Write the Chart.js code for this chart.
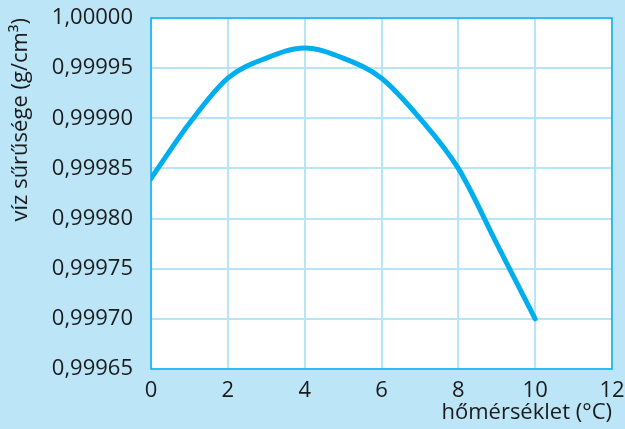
<!DOCTYPE html>
<html>
<head>
<meta charset="utf-8">
<script src="https://cdn.jsdelivr.net/npm/chart.js@4/dist/chart.umd.min.js"></script>
<style>
html,body{margin:0;padding:0;background:#bce5f8;}
#wrap{width:625px;height:429px;}
</style>
</head>
<body>
<div id="wrap"><canvas id="c" width="625" height="429"></canvas></div>
<script>
const temperatures = [0, 1, 2, 3, 4, 5, 6, 7, 8, 9, 10];
const densities = [0.99984, 0.999895, 0.99994, 0.99996, 0.99997, 0.99996, 0.99994, 0.99990, 0.99985, 0.999775, 0.99970];
const xTicks = [0, 2, 4, 6, 8, 10, 12];
const yTicks = [0.99965, 0.99970, 0.99975, 0.99980, 0.99985, 0.99990, 0.99995, 1.00000];
const xTitle = 'hőmérséklet (°C)';
const yTitle = 'víz sűrűsége (g/cm³)';

const FONT = '"Open Sans", "Noto Sans", sans-serif';
const textColor = '#1b1b1b';
const gridColor = '#b8e4f7';
const lineColor = '#00aeef';

const bgPlugin = {
  id: 'bg',
  beforeDraw(chart) {
    const {ctx, chartArea: a} = chart;
    ctx.save();
    ctx.fillStyle = '#bce5f8';
    ctx.fillRect(0, 0, chart.width, chart.height);
    ctx.fillStyle = '#ffffff';
    ctx.fillRect(a.left, a.top, a.right - a.left, a.bottom - a.top);
    ctx.restore();
  },
  afterDatasetsDraw(chart) {
    const {ctx, chartArea: a} = chart;
    ctx.save();
    ctx.strokeStyle = lineColor;
    ctx.lineWidth = 1.5;
    ctx.strokeRect(a.left, a.top, a.right - a.left, a.bottom - a.top);
    ctx.restore();
  }
};

new Chart(document.getElementById('c'), {
  type: 'line',
  data: {
    datasets: [{
      data: temperatures.map((t, i) => ({x: t, y: densities[i]})),
      borderColor: lineColor,
      borderWidth: 5,
      borderCapStyle: 'round',
      borderJoinStyle: 'round',
      pointRadius: 0,
      cubicInterpolationMode: 'monotone',
      fill: false
    }]
  },
  options: {
    responsive: false,
    animation: false,
    devicePixelRatio: 1,
    layout: {padding: {top: 18, right: 13, left: 0, bottom: 0}},
    plugins: {legend: {display: false}, tooltip: {enabled: false}},
    scales: {
      x: {
        type: 'linear',
        min: 0, max: 12,
        afterBuildTicks(s) { s.ticks = xTicks.map(v => ({value: v})); },
        afterFit(s) { s.height = 60; s.paddingLeft = 0; s.paddingRight = 0; },
        grid: {color: gridColor, lineWidth: 2, drawTicks: false},
        border: {display: false},
        ticks: {color: textColor, font: {family: FONT, size: 22}, padding: 9, maxRotation: 0},
        title: {display: true, text: xTitle, align: 'end', color: textColor,
                font: {family: FONT, size: 22}, padding: {top: 0, bottom: 3}}
      },
      y: {
        type: 'linear',
        min: 0.99965, max: 1.0,
        afterBuildTicks(s) { s.ticks = yTicks.map(v => ({value: v})); },
        afterFit(s) { s.width = 151; s.paddingTop = 0; s.paddingBottom = 0; },
        grid: {color: gridColor, lineWidth: 2, drawTicks: false},
        border: {display: false},
        ticks: {color: textColor, font: {family: FONT, size: 22}, padding: 18,
                callback: v => v.toFixed(5).replace('.', ',')},
        title: {display: true, text: yTitle, align: 'end', color: textColor,
                font: {family: FONT, size: 22}, padding: {top: 8, bottom: 0}}
      }
    }
  },
  plugins: [bgPlugin]
});
</script>
</body>
</html>
